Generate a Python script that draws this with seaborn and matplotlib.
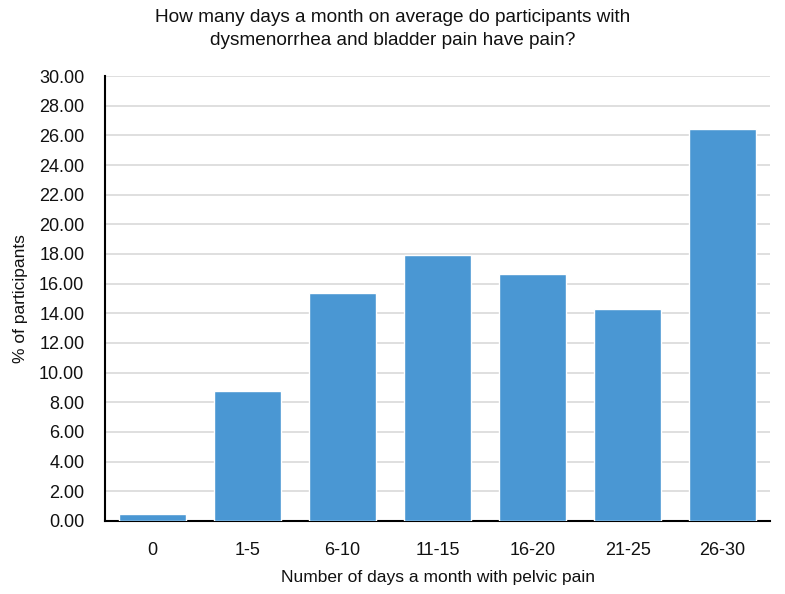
import matplotlib
matplotlib.use("Agg")
import matplotlib.pyplot as plt
import seaborn as sns
import pandas as pd

categories = ["0", "1-5", "6-10", "11-15", "16-20", "21-25", "26-30"]
values = [0.45, 8.77, 15.37, 17.94, 16.66, 14.28, 26.45]
yticks = [0, 2, 4, 6, 8, 10, 12, 14, 16, 18, 20, 22, 24, 26, 28, 30]

sns.set_theme(style="white")
plt.rcParams['font.family'] = ['Liberation Sans', 'DejaVu Sans']

df = pd.DataFrame({"cat": categories, "val": values})

fig = plt.figure(figsize=(7.85, 5.94), dpi=100)
ax = fig.add_axes([0.134, 0.123, 0.847, 0.749])
sns.barplot(data=df, x="cat", y="val", color="#4a97d3", saturation=1, width=0.71, ax=ax, zorder=3)
ax.set_ylim(0, 30)
ax.set_xlim(-0.5, 6.5)
ax.set_yticks(yticks)
ax.set_yticklabels([f"{t:.2f}" for t in yticks], fontsize=13, color="#111111")
ax.tick_params(axis="x", labelsize=13, colors="#111111", pad=15, length=0)
ax.tick_params(axis="y", pad=15, length=0)
ax.yaxis.grid(True, color="#d9d9d9", linewidth=1.2, zorder=0)
ax.set_axisbelow(True)
for s in ["top", "right"]:
    ax.spines[s].set_visible(False)
for s in ["left", "bottom"]:
    ax.spines[s].set_color("#000000")
    ax.spines[s].set_linewidth(1.5)
ax.set_xlabel("Number of days a month with pelvic pain", fontsize=12.5, color="#111111", labelpad=8)
ax.set_ylabel("% of participants", fontsize=12.5, color="#111111", labelpad=8)
fig.suptitle("How many days a month on average do participants with\ndysmenorrhea and bladder pain have pain?",
             fontsize=13.7, color="#111111", y=0.985, x=0.5, linespacing=1.45)
fig.savefig("out.png", dpi=100)
